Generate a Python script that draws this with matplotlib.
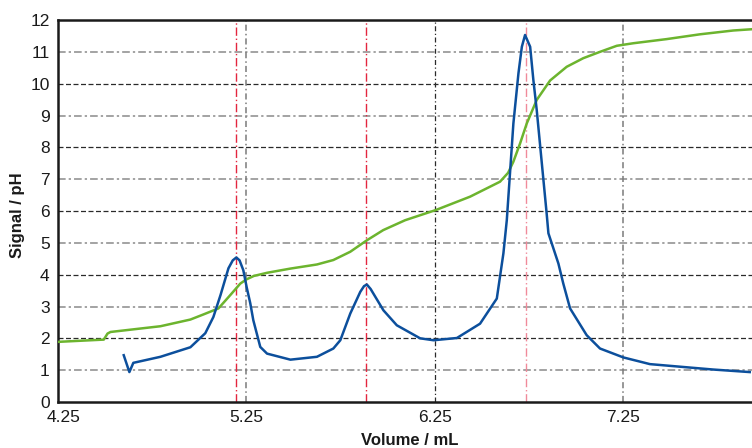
import matplotlib
matplotlib.use("Agg")
import matplotlib.pyplot as plt

# Titration record: detector signal and pH against titrant volume
signal_volume = [4.599, 4.629, 4.650, 4.794, 4.953, 5.032, 5.075, 5.113, 5.155, 5.178,
                 5.197, 5.214, 5.234, 5.252, 5.271, 5.287, 5.324, 5.360, 5.484, 5.625,
                 5.712, 5.749, 5.802, 5.855, 5.875, 5.890, 5.910, 5.978, 6.049, 6.173,
                 6.244, 6.368, 6.491, 6.580, 6.615, 6.633, 6.668, 6.695, 6.713, 6.730,
                 6.757, 6.774, 6.792, 6.819, 6.845, 6.854, 6.907, 6.933, 6.969, 7.057,
                 7.128, 7.252, 7.393, 7.570, 7.729, 7.923]
signal_value = [1.47, 0.94, 1.23, 1.42, 1.72, 2.16, 2.67, 3.36, 4.20, 4.45,
                4.54, 4.45, 4.14, 3.60, 3.10, 2.57, 1.73, 1.52, 1.33, 1.42,
                1.68, 1.94, 2.78, 3.46, 3.64, 3.69, 3.55, 2.88, 2.41, 2.00,
                1.94, 2.01, 2.46, 3.25, 4.67, 5.71, 8.75, 10.33, 11.16, 11.53,
                11.16, 10.12, 9.17, 7.50, 5.90, 5.30, 4.35, 3.72, 2.94, 2.10,
                1.68, 1.40, 1.19, 1.10, 1.02, 0.94]

ph_volume = [4.253, 4.493, 4.513, 4.529, 4.794, 4.953, 5.022, 5.102, 5.165, 5.218,
             5.250, 5.290, 5.361, 5.483, 5.625, 5.712, 5.802, 5.890, 5.977, 6.093,
             6.256, 6.438, 6.597, 6.640, 6.668, 6.704, 6.739, 6.792, 6.863, 6.951,
             7.039, 7.128, 7.217, 7.305, 7.482, 7.658, 7.835, 7.934]
ph_value = [1.89, 1.96, 2.15, 2.20, 2.38, 2.59, 2.75, 2.94, 3.36, 3.72,
            3.85, 3.96, 4.06, 4.19, 4.32, 4.46, 4.72, 5.08, 5.40, 5.71,
            6.03, 6.45, 6.92, 7.20, 7.55, 8.13, 8.75, 9.49, 10.10, 10.53,
            10.80, 11.00, 11.19, 11.27, 11.40, 11.55, 11.67, 11.71]

# Equivalence points
equivalence_points = [5.193, 5.887, 6.735]
equivalence_colors = ["#e3263f", "#e3263f", "#f08a9a"]

x_ticks = [4.25, 5.25, 6.25, 7.25]
x_tick_labels = ["4.25", "5.25", "6.25", "7.25"]
y_ticks = list(range(0, 13))

fig = plt.figure(figsize=(7.52, 4.48), dpi=100)
ax = fig.add_axes([58 / 752, 1 - 402 / 448, 1 - 58 / 752, (402 - 20) / 448])

ax.set_xlim(4.25, 7.935)
ax.set_ylim(0, 12)

# grid: darker dashed lines alternate with lighter dash-dot ones
for y in range(1, 12):
    if y % 2 == 0:
        ax.axhline(y, color="#2a2a2a", lw=0.9, ls=(0, (4, 2)), zorder=1)
    else:
        ax.axhline(y, color="#8a8a8a", lw=1.1, ls=(0, (5, 2, 1.5, 2)), zorder=1)
for x in x_ticks[1:]:
    if x == 6.25:
        ax.axvline(x, color="#2a2a2a", lw=0.9, ls=(0, (4, 2, 1, 2)), zorder=1)
    else:
        ax.axvline(x, color="#7a7a7a", lw=1.1, ls=(0, (4, 2, 1, 2)), zorder=1)

for xv, c in zip(equivalence_points, equivalence_colors):
    ax.axvline(xv, color=c, lw=1.0, ls=(0, (6, 2, 1, 2)), zorder=2)

ax.plot(ph_volume, ph_value, color="#6cb42e", lw=1.8, zorder=3,
        solid_joinstyle="round")
ax.plot(signal_volume, signal_value, color="#0c4f9c", lw=1.8, zorder=4,
        solid_joinstyle="round")

ax.set_xticks(x_ticks)
ax.set_xticklabels(x_tick_labels)
ax.set_yticks(y_ticks)
ax.tick_params(length=0, labelsize=12.5, pad=6, colors="#1a1a1a")
for lab in ax.get_xticklabels() + ax.get_yticklabels():
    lab.set_family(["Liberation Sans", "DejaVu Sans"])

# nudge the first volume label off the corner
first = ax.get_xticklabels()[0]
first.set_transform(first.get_transform() +
                    matplotlib.transforms.ScaledTranslation(6 / 100, 0, fig.dpi_scale_trans))

for side in ("left", "bottom", "top"):
    ax.spines[side].set_linewidth(1.8)
    ax.spines[side].set_color("#1a1a1a")
ax.spines["right"].set_visible(False)

label_font = dict(family=["Liberation Sans", "DejaVu Sans"],
                  fontweight="bold", fontsize=12, color="#1a1a1a")
fig.text(410 / 752, 1 - 440 / 448, "Volume / mL", ha="center", va="center", **label_font)
fig.text(18 / 752, 1 - 215 / 448, "Signal / pH", ha="center", va="center",
         rotation=90, **label_font)

fig.savefig("out.png", dpi=100)
